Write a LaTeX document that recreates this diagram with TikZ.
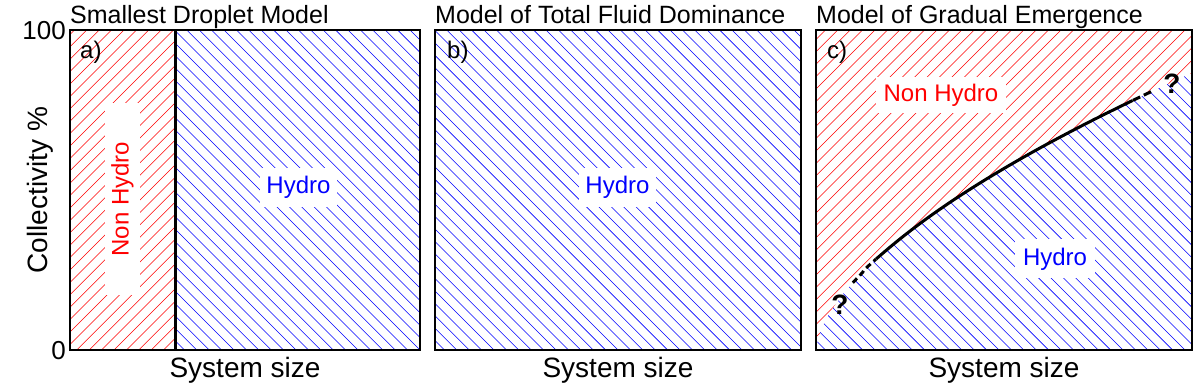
\documentclass[tikz,border=0pt]{standalone}
\usepackage{fontspec}
\setmainfont{Liberation Sans}
\newcommand\myhatchR[2]{\foreach \i in {0,...,#2}{\draw[hatchR] ({#1+12.4*\i},38) -- ++(325,325);}}
\newcommand\myhatchB[2]{\foreach \i in {0,...,#2}{\draw[hatchB] ({#1+12.4*\i},362) -- ++(325,-325);}}
\begin{document}
\begin{tikzpicture}[x=1pt,y=1pt,
  frame/.style={draw=black,line width=1.6pt},
  hatchR/.style={red,line width=0.55pt},
  hatchB/.style={blue,line width=0.55pt},
  lab/.style={font=\fontsize{24}{28}\selectfont, fill=white, inner sep=0pt},
  plab/.style={font=\fontsize{24}{28}\selectfont, anchor=base west, inner sep=0pt},
  title/.style={font=\fontsize{25}{30}\selectfont, anchor=base west, inner sep=0pt},
  axlab/.style={font=\fontsize{28}{32}\selectfont, inner sep=0pt},
  tick/.style={font=\fontsize{26}{30}\selectfont, anchor=base east, inner sep=0pt},
  qmark/.style={font=\fontsize{28}{32}\selectfont\bfseries, inner sep=0pt},
  boundary/.style={line width=3pt}
]
\useasboundingbox (0,0) rectangle (1196,390);

% ---- panel a hatching
\begin{scope}
  \clip (70,40) rectangle (175,360);
  \myhatchR{-260}{36}
\end{scope}
\begin{scope}
  \clip (175,40) rectangle (420,360);
  \myhatchB{-150}{47}
\end{scope}
% ---- panel b hatching
\begin{scope}
  \clip (435,40) rectangle (801,360);
  \myhatchB{110}{56}
\end{scope}
% ---- panel c hatching
\begin{scope}
  \clip (816,360) -- (816,40) -- plot[domain=0.001:1,samples=120,variable=\u] ({816+376*\u},{40+277*\u^0.61}) -- (1192,360) -- cycle;
  \myhatchR{491}{57}
\end{scope}
\begin{scope}
  \clip (816,40) -- plot[domain=0.001:1,samples=120,variable=\u] ({816+376*\u},{40+277*\u^0.61}) -- (1192,40) -- cycle;
  \myhatchB{491}{57}
\end{scope}

% ---- boundary curve in panel c
\draw[boundary] plot[domain=0.16:0.843,samples=80,variable=\u] ({816+376*\u},{40+277*\u^0.61});
\draw[boundary,dash pattern=on 6pt off 4pt] plot[domain=0.098:0.16,samples=20,variable=\u] ({816+376*\u},{40+277*\u^0.61});
\draw[boundary,dash pattern=on 8pt off 4pt] plot[domain=0.843:0.9,samples=20,variable=\u] ({816+376*\u},{40+277*\u^0.61});

% ---- region labels
\node[lab,text=red,rotate=90,minimum width=192pt,minimum height=35pt] (nhA) at (122.5,191) {Non Hydro};
\node[lab,text=blue,minimum width=77pt,minimum height=39pt] (hA) at (298.5,202.5) {Hydro};
\node[lab,text=blue,minimum width=77pt,minimum height=39pt] (hB) at (617.5,202.5) {Hydro};
\node[lab,text=red,minimum width=130pt,minimum height=36pt] (nhC) at (941,295) {Non Hydro};
\node[lab,text=blue,minimum width=80pt,minimum height=39pt] (hC) at (1055,131) {Hydro};

\node[qmark] (q1) at (840,85) {?};
\node[qmark] (q2) at (1172,306) {?};

% ---- frames
\draw[line width=3pt] (175,40) -- (175,360);
\draw[frame] (70,40) rectangle (420,360);
\draw[frame] (435,40) rectangle (801,360);
\draw[frame] (816,40) rectangle (1192,360);

% ---- panel letters
\node[plab] (la) at (80,331) {a)};
\node[plab] (lb) at (447,331) {b)};
\node[plab] (lc) at (827,331) {c)};

% ---- titles
\node[title] (tA) at (70,366.7) {Smallest Droplet Model};
\node[title] (tB) at (435,366.7) {Model of Total Fluid Dominance};
\node[title] (tC) at (816,366.7) {Model of Gradual Emergence};

% ---- axes
\node[tick] (t100) at (66,350.7) {100};
\node[tick] (t0) at (66,30.7) {0};
\node[axlab,rotate=90] (yl) at (40,200) {Collectivity \%};
\node[axlab,anchor=base] (xA) at (245,12) {System size};
\node[axlab,anchor=base] (xB) at (618,12) {System size};
\node[axlab,anchor=base] (xC) at (1004,12) {System size};
\end{tikzpicture}
\end{document}
